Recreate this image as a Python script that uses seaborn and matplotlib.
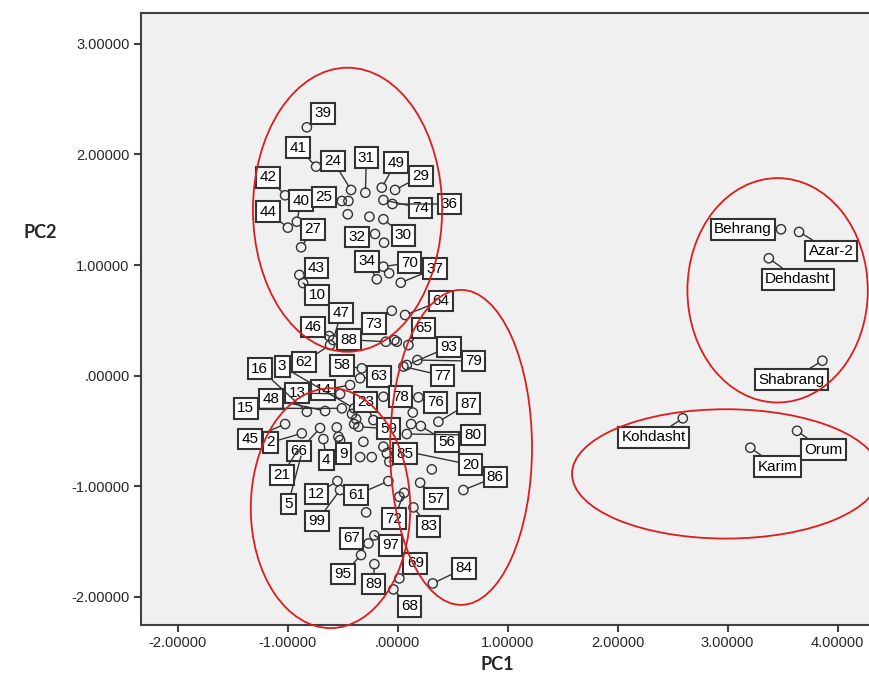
import matplotlib
matplotlib.use("Agg")
import matplotlib.pyplot as plt
from matplotlib.patches import Ellipse
from matplotlib.ticker import FuncFormatter
import pandas as pd
import seaborn as sns

# PCA scores ("" = point whose label SPSS hid)
labels = [
    "39", "41", "24", "31", "49", "29", "42", "40", "44", "27", "25", "", "",
    "74", "36", "", "30", "32", "", "70", "", "34", "37", "43", "10",
    "73", "64", "47", "46", "62", "88", "", "", "65", "58", "63", "79", "93",
    "77", "14", "13", "16", "48", "15", "3", "23", "78", "76", "", "87", "56",
    "", "80", "20", "85", "59", "", "", "", "45", "2", "66", "", "4", "9", "",
    "", "", "", "", "", "21", "5", "12", "99", "61", "", "57", "86", "72", "",
    "83", "67", "97", "95", "89", "69", "68", "84",
    "Behrang", "Azar-2", "Dehdasht", "Shabrang", "Kohdasht", "Orum", "Karim",
]
pc1 = [
    -0.825, -0.741, -0.423, -0.293, -0.144, -0.023, -1.023, -0.916, -0.998, -0.877, -0.507, -0.447, -0.453,
    -0.129, -0.047, -0.256, -0.129, -0.205, -0.123, -0.129, -0.077, -0.189, 0.029, -0.893, -0.859,
    -0.053, 0.068, -0.586, -0.623, -0.614, -0.107, -0.029, -0.007, 0.098, -0.325, -0.341, 0.180, 0.084,
    0.053, -0.432, -0.523, -0.825, -0.659, -0.507, -0.395, -0.220, -0.129, 0.189, 0.138, 0.371, 0.211,
    0.123, 0.084, -0.129, -0.075, -0.356, -0.414, -0.377, -0.395, -1.023, -0.871, -0.705, -0.553, -0.675, -0.538, -0.523,
    -0.311, -0.341, -0.235, -0.098, 0.311, -0.886, -0.868, -0.547, -0.523, -0.084, -0.286, 0.205, 0.598, 0.059, 0.016,
    0.144, -0.265, -0.211, -0.332, -0.211, 0.016, -0.038, 0.320,
    3.486, 3.650, 3.375, 3.862, 2.593, 3.632, 3.207,
]
pc2 = [
    2.246, 1.890, 1.679, 1.654, 1.700, 1.679, 1.631, 1.392, 1.338, 1.160, 1.579, 1.579, 1.459,
    1.588, 1.552, 1.437, 1.414, 1.281, 1.202, 0.985, 0.925, 0.871, 0.840, 0.910, 0.837,
    0.586, 0.548, 0.321, 0.357, 0.276, 0.306, 0.321, 0.306, 0.276, 0.065, -0.025, 0.140, 0.095,
    0.081, -0.086, -0.167, -0.328, -0.321, -0.297, -0.297, -0.403, -0.192, -0.197, -0.335, -0.418, -0.457,
    -0.439, -0.529, -0.644, -0.780, -0.463, -0.348, -0.394, -0.439, -0.439, -0.523, -0.475, -0.469, -0.575, -0.554, -0.584,
    -0.599, -0.738, -0.738, -0.704, -0.849, -0.638, -0.692, -0.955, -1.036, -0.955, -1.238, -0.970, -1.036, -1.061, -1.097,
    -1.193, -1.519, -1.446, -1.624, -1.706, -1.835, -1.935, -1.881,
    1.323, 1.299, 1.061, 0.134, -0.387, -0.500, -0.653,
]

# where each label box sits relative to its point, in pixels (dx, dy)
label_shift = {
    "39": (16, 14), "41": (-18, 19), "24": (-18, 29), "31": (1, 35), "49": (14, 25),
    "29": (26, 14), "42": (-17, 18), "40": (4, 21), "44": (-20, 16), "27": (12, 18),
    "25": (-18, 4), "74": (37, -8), "36": (57, 0), "30": (20, -16), "32": (-18, -3),
    "70": (26, 4), "34": (-10, 18), "37": (34, 14), "43": (17, 7), "10": (14, -12),
    "73": (-18, -13), "64": (36, 14), "47": (8, 27), "46": (-16, 9), "62": (-26, -17),
    "88": (-37, 2), "65": (15, 17), "58": (-20, 3), "63": (19, 2), "79": (56, -1),
    "93": (42, 18), "77": (39, -9), "14": (-27, -5), "13": (-43, 1), "16": (-47, 43),
    "48": (-54, 12), "15": (-96, 0), "3": (-72, 42), "23": (-8, 18), "78": (17, 0),
    "76": (17, -5), "87": (30, 18), "56": (26, -16), "80": (66, -1), "20": (87, -18),
    "85": (16, 8), "59": (30, -2), "45": (-35, -15), "2": (-31, -9), "66": (-21, -23),
    "4": (3, -21), "9": (5, -17), "21": (-18, -29), "5": (-14, -52), "12": (-21, -13),
    "99": (-23, -31), "61": (-32, -14), "57": (16, -16), "86": (32, 13), "72": (-10, -26),
    "83": (15, -19), "67": (-17, 5), "97": (16, -10), "95": (-18, -19), "89": (-1, -20),
    "69": (16, 15), "68": (16, -17), "84": (31, 15),
    "Behrang": (-38, 0), "Azar-2": (32, -19), "Dehdasht": (29, -21), "Shabrang": (-31, -19),
    "Kohdasht": (-29, -19), "Orum": (26, -19), "Karim": (27, -19),
}

# hand-drawn cluster ellipses: centre x, centre y, width, height (data units)
clusters = [
    (-0.455, 1.50, 1.72, 2.57),
    (-0.61, -1.20, 1.45, 2.17),
    (0.577, -0.65, 1.29, 2.85),
    (3.455, 0.771, 1.64, 2.03),
    (2.986, -0.89, 2.80, 1.17),
]

df = pd.DataFrame({"label": labels, "PC1": pc1, "PC2": pc2})

sns.set_style("ticks")
plt.rcParams["font.family"] = ["Liberation Sans", "DejaVu Sans"]

fig = plt.figure(figsize=(8.69, 6.78), dpi=100)
ax = fig.add_axes([0.162, 0.078, 0.838, 0.903])
ax.set_facecolor("#f0f0f0")

sns.scatterplot(data=df, x="PC1", y="PC2", ax=ax, s=45, marker="o",
                facecolor="none", edgecolor="#333333", linewidth=1.0, zorder=2)

# boxed labels with leader lines
for _, row in df.iterrows():
    if not row["label"]:
        continue
    dx, dy = label_shift[row["label"]]
    ax.annotate(row["label"], xy=(row["PC1"], row["PC2"]), xytext=(dx, dy),
                textcoords="offset pixels", ha="center", va="center",
                fontsize=11, color="black", zorder=3,
                bbox=dict(boxstyle="square,pad=0.22", fc="white", ec="#333333", lw=1.5),
                arrowprops=dict(arrowstyle="-", color="#333333", lw=1.0,
                                shrinkA=0, shrinkB=3))

for cx, cy, w, h in clusters:
    ax.add_patch(Ellipse((cx, cy), w, h, fill=False, ec="#dd1c1c", lw=1.3,
                         zorder=4, clip_on=False))

ax.set_xlim(-2.335, 4.286)
ax.set_ylim(-2.258, 3.281)
ax.set_xticks([-2, -1, 0, 1, 2, 3, 4])
ax.set_yticks([-2, -1, 0, 1, 2, 3])


def spss_fmt(v, pos):
    s = f"{v:.5f}"
    if s.startswith("0."):
        s = s[1:]
    return s


ax.xaxis.set_major_formatter(FuncFormatter(spss_fmt))
ax.yaxis.set_major_formatter(FuncFormatter(spss_fmt))
ax.tick_params(length=5, width=1.5, color="#404040", labelsize=10.5, pad=3)

for side in ["left", "bottom", "top"]:
    ax.spines[side].set_color("#404040")
    ax.spines[side].set_linewidth(1.5)
ax.spines["right"].set_visible(False)

ax.set_xlabel("PC1", fontsize=13, fontweight="bold", family=["Lato", "DejaVu Sans"])
ax.set_ylabel("PC2", fontsize=13, fontweight="bold", family=["Lato", "DejaVu Sans"], rotation=0)
ax.xaxis.set_label_coords(0.489, -0.05)
ax.yaxis.set_label_coords(-0.138, 0.627)

fig.savefig("out.png", dpi=100)
